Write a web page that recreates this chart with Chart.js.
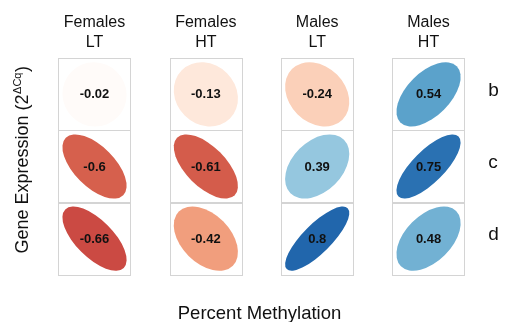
<!DOCTYPE html>
<html>
<head>
<meta charset="utf-8">
<script src="https://cdn.jsdelivr.net/npm/chart.js@4.4.1/dist/chart.umd.min.js"></script>
<style>
  html, body { margin: 0; padding: 0; background: #fff; }
  #wrap { width: 509px; height: 322px; position: relative; }
</style>
</head>
<body>
<div id="wrap"><canvas id="c"></canvas></div>
<script>
// Groups (columns), genes (rows) and the correlation of each gene with methylation
const groups = ['Females LT', 'Females HT', 'Males LT', 'Males HT'];
const genes = ['b', 'c', 'd'];
const corrB = [-0.02, -0.13, -0.24, 0.54];
const corrC = [-0.6, -0.61, 0.39, 0.75];
const corrD = [-0.66, -0.42, 0.8, 0.48];
const xTitle = 'Percent Methylation';
const yTitleMain = 'Gene Expression (2';
const yTitleSup = '\u0394Cq';
const yTitleEnd = ')';

const rows = [corrB, corrC, corrD];
const FONT = '"Liberation Sans", Arial, Helvetica, sans-serif';

// Diverging red-white-blue palette spanning -1 .. 1
const palette = ['#67001F', '#B2182B', '#D6604D', '#F4A582', '#FDDBC7', '#FFFFFF',
                 '#D1E5F0', '#92C5DE', '#4393C3', '#2166AC', '#053061'];
function hexRgb(h) {
  return [parseInt(h.slice(1, 3), 16), parseInt(h.slice(3, 5), 16), parseInt(h.slice(5, 7), 16)];
}
function corrColor(v) {
  const t = (v + 1) / 2 * (palette.length - 1);
  const i = Math.min(Math.floor(t), palette.length - 2);
  const f = t - i;
  const a = hexRgb(palette[i]), b = hexRgb(palette[i + 1]);
  const c = a.map((ch, k) => Math.round(ch + (b[k] - ch) * f));
  return `rgb(${c[0]},${c[1]},${c[2]})`;
}

// Cell frames, ellipses and value labels, positioned by the chart's scales
const corrPlugin = {
  id: 'corrEllipses',
  beforeDatasetsDraw(chart) {
    const { ctx, scales: { y } } = chart;
    const cell = Math.abs(y.getPixelForValue(1) - y.getPixelForValue(0));
    ctx.save();
    ctx.strokeStyle = '#d4d4d4';
    ctx.lineWidth = 1;
    chart.data.datasets.forEach((ds, di) => {
      chart.getDatasetMeta(di).data.forEach(el => {
        const l = Math.round(el.x - cell / 2) + 0.5;
        const t = Math.round(el.y - cell / 2) + 0.5;
        ctx.strokeRect(l, t, Math.round(cell), Math.round(cell));
      });
    });
    ctx.restore();
  },
  afterDatasetsDraw(chart) {
    const { ctx, scales: { y } } = chart;
    const cell = Math.abs(y.getPixelForValue(1) - y.getPixelForValue(0));
    const s = cell * 0.89;
    ctx.save();
    chart.data.datasets.forEach((ds, di) => {
      chart.getDatasetMeta(di).data.forEach((el, i) => {
        const v = ds.data[i].v;
        const d = Math.acos(v) / 2;
        const a = Math.cos(d) / Math.SQRT2 * s;
        const b = Math.sin(d) / Math.SQRT2 * s;
        ctx.beginPath();
        ctx.ellipse(el.x, el.y, a, b, -Math.PI / 4, 0, Math.PI * 2);
        ctx.fillStyle = corrColor(v);
        ctx.fill();
        ctx.fillStyle = '#111';
        ctx.font = `bold 13px ${FONT}`;
        ctx.textAlign = 'center';
        ctx.textBaseline = 'middle';
        ctx.fillText(String(v), el.x, el.y + 0.5);
      });
    });
    ctx.restore();
  },
  afterDraw(chart) {
    const { ctx, chartArea: ca } = chart;
    ctx.save();
    ctx.fillStyle = '#111';
    // bottom axis title
    ctx.font = `18.5px ${FONT}`;
    ctx.textAlign = 'center';
    ctx.textBaseline = 'alphabetic';
    ctx.fillText(xTitle, (ca.left + ca.right) / 2 - 2, 318.5);
    // left axis title with superscript
    const mainFont = `18px ${FONT}`, supFont = `11px ${FONT}`;
    ctx.font = mainFont;
    const w1 = ctx.measureText(yTitleMain).width;
    const w3 = ctx.measureText(yTitleEnd).width;
    ctx.font = supFont;
    const w2 = ctx.measureText(yTitleSup).width + 1;
    const total = w1 + w2 + w3;
    ctx.translate(28, ca.top + 101.5);
    ctx.rotate(-Math.PI / 2);
    ctx.textAlign = 'left';
    const x0 = -total / 2;
    ctx.font = mainFont;
    ctx.fillText(yTitleMain, x0, 0);
    ctx.font = supFont;
    ctx.fillText(yTitleSup, x0 + w1 + 0.5, -7);
    ctx.font = mainFont;
    ctx.fillText(yTitleEnd, x0 + w1 + w2, 0);
    ctx.restore();
  }
};

new Chart(document.getElementById('c'), {
  type: 'scatter',
  data: {
    datasets: genes.map((g, gi) => ({
      label: g,
      data: groups.map((grp, i) => ({ x: grp, y: g, v: rows[gi][i] })),
      pointRadius: 0,
      pointHoverRadius: 0
    }))
  },
  options: {
    responsive: true,
    maintainAspectRatio: false,
    animation: false,
    events: [],
    layout: { padding: { left: 38.85, right: 0, top: 0, bottom: 47.3 } },
    plugins: { legend: { display: false }, tooltip: { enabled: false } },
    scales: {
      x: {
        type: 'category',
        labels: groups,
        position: 'top',
        offset: true,
        grid: { display: false, drawTicks: false },
        border: { display: false },
        ticks: {
          callback: (val, i) => groups[i].split(' '),
          font: { size: 16, family: FONT, lineHeight: 1.3 },
          color: '#111',
          padding: 5,
          maxRotation: 0,
          autoSkip: false
        },
        afterFit: s => { s.height = 58.3; }
      },
      y: {
        type: 'category',
        labels: genes,
        position: 'right',
        offset: true,
        grid: { display: false, drawTicks: false },
        border: { display: false },
        ticks: {
          // a trailing empty line lifts each row label slightly
          callback: (val, i) => [genes[i], ''],
          font: { size: 19, family: FONT, lineHeight: 0.42 },
          color: '#111',
          padding: 4
        },
        afterFit: s => { s.width = 24.8; }
      }
    }
  },
  plugins: [corrPlugin]
});
</script>
</body>
</html>
